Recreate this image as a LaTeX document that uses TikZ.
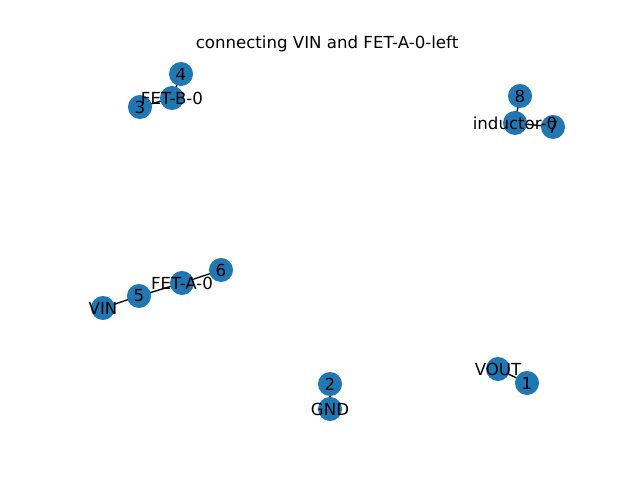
\documentclass[tikz,border=0pt]{standalone}
\usepackage{fontspec}
\setmainfont{DejaVu Sans}
\usetikzlibrary{backgrounds}
\definecolor{nxblue}{HTML}{1F77B4}
\tikzset{>=latex}
\tikzset{vertex/.style={circle, fill=nxblue, minimum size=0.24in, inner sep=0pt}}
\tikzset{vlabel/.style={inner sep=0pt, font=\fontsize{12pt}{14pt}\selectfont}}
\tikzset{link/.style={draw=black, line width=1pt}}

\begin{document}
\begin{tikzpicture}[x=0.01in, y=-0.01in]
      \useasboundingbox (0, 0) rectangle (640, 480); %
      \node[vlabel] (title) at (327, 44) {connecting VIN and FET-A-0-left}; %
      % component nodes
      \node[vertex] (fetb) at (172, 98) {}; %
      \node[vertex] (n4) at (181, 74) {}; %
      \node[vertex] (n3) at (140, 107) {}; %
      \node[vertex] (ind) at (515, 123) {}; %
      \node[vertex] (n8) at (520, 96) {}; %
      \node[vertex] (n7) at (553, 127) {}; %
      \node[vertex] (feta) at (182, 283) {}; %
      \node[vertex] (n6) at (221, 270) {}; %
      \node[vertex] (n5) at (139, 296) {}; %
      \node[vertex] (vin) at (103, 308) {}; %
      \node[vertex] (n2) at (330, 384) {}; %
      \node[vertex] (gnd) at (330, 409) {}; %
      \node[vertex] (vout) at (498, 369) {}; %
      \node[vertex] (n1) at (527, 383) {}; %
      \begin{scope}[on background layer]
        \draw[link] (fetb.center) -- (n4.center); %
        \draw[link] (fetb.center) -- (n3.center); %
        \draw[link] (ind.center) -- (n8.center); %
        \draw[link] (ind.center) -- (n7.center); %
        \draw[link] (feta.center) -- (n6.center); %
        \draw[link] (feta.center) -- (n5.center); %
        \draw[link] (n5.center) -- (vin.center); %
        \draw[link] (n2.center) -- (gnd.center); %
        \draw[link] (vout.center) -- (n1.center); %
      \end{scope}
      % labels on top
      \foreach \n/\t in {fetb/FET-B-0, n4/4, n3/3, ind/inductor-0, n8/8,
        n7/7, feta/FET-A-0, n6/6, n5/5, vin/VIN, n2/2, gnd/GND,
        vout/VOUT, n1/1}
        \node[vlabel] at (\n) {\t}; %
    \end{tikzpicture}
\end{document}
